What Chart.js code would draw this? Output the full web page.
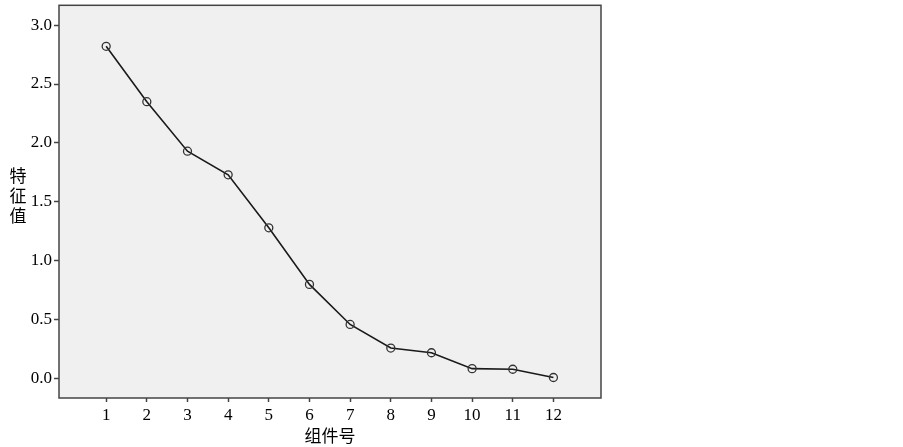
<!DOCTYPE html>
<html>
<head>
<meta charset="utf-8">
<script src="https://cdn.jsdelivr.net/npm/chart.js@4/dist/chart.umd.min.js"></script>
<style>
  html, body { margin: 0; padding: 0; background: #fff; }
  #wrap { width: 903px; height: 447px; }
</style>
</head>
<body>
<div id="wrap"><canvas id="scree" width="903" height="447"></canvas></div>
<script>
// component numbers and eigenvalues
const components = [1, 2, 3, 4, 5, 6, 7, 8, 9, 10, 11, 12];
const eigenvalues = [2.82, 2.35, 1.93, 1.73, 1.28, 0.80, 0.46, 0.26, 0.22, 0.085, 0.08, 0.01];
const yTicks = [0, 0.5, 1.0, 1.5, 2.0, 2.5, 3.0];
const xTitle = "组件号";
const yTitle = ["特", "征", "值"];

const frameColor = "#444";

// grey plot area plus box around it, stacked vertical y title
const framePlugin = {
    id: "frame",
    beforeDatasetsDraw(chart) {
        const { ctx, chartArea: a } = chart;
        ctx.save();
        ctx.fillStyle = "#f0f0f0";
        ctx.fillRect(a.left, a.top, a.right - a.left, a.bottom - a.top);
        ctx.restore();
    },
    afterDraw(chart) {
        const { ctx, chartArea: a } = chart;
        ctx.save();
        ctx.strokeStyle = frameColor;
        ctx.lineWidth = 1.5;
        ctx.strokeRect(a.left, a.top, a.right - a.left, a.bottom - a.top);
        ctx.fillStyle = "#000";
        ctx.font = "17px 'Noto Sans CJK SC'";
        ctx.textAlign = "center";
        ctx.textBaseline = "middle";
        yTitle.forEach((ch, i) => ctx.fillText(ch, 18, 176 + i * 20));
        ctx.restore();
    },
};

const tickFont = { family: "'Liberation Serif', serif", size: 17 };

new Chart(document.getElementById("scree"), {
    type: "line",
    data: {
        datasets: [{
            data: components.map((c, i) => ({ x: c, y: eigenvalues[i] })),
            borderColor: "#1a1a1a",
            borderWidth: 1.6,
            pointRadius: 4,
            pointBorderWidth: 1.3,
            pointBorderColor: "#333",
            pointBackgroundColor: "rgba(0,0,0,0)",
            tension: 0,
        }],
    },
    options: {
        responsive: false,
        animation: false,
        layout: { padding: { left: 0, top: 5, right: 302, bottom: 0 } },
        plugins: { legend: { display: false }, tooltip: { enabled: false } },
        scales: {
            x: {
                type: "linear",
                min: -0.16,
                max: 13.17,
                afterBuildTicks: (scale) => { scale.ticks = components.map((v) => ({ value: v })); },
                afterFit: (scale) => {
                    scale.height = 49;
                    scale.paddingLeft = 0;
                    scale.paddingRight = 0;
                },
                grid: { drawOnChartArea: false, tickLength: 4, color: frameColor, tickWidth: 1.5 },
                border: { display: false },
                ticks: { font: tickFont, color: "#000", padding: 3, autoSkip: false, maxRotation: 0 },
                title: {
                    display: true,
                    text: xTitle,
                    font: { family: "'Noto Sans CJK SC'", size: 17 },
                    color: "#000",
                    padding: { top: 0, bottom: 1 },
                },
            },
            y: {
                type: "linear",
                min: -0.164,
                max: 3.168,
                afterBuildTicks: (scale) => { scale.ticks = yTicks.map((v) => ({ value: v })); },
                afterFit: (scale) => {
                    scale.width = 59;
                    scale.paddingTop = 0;
                    scale.paddingBottom = 0;
                },
                grid: { drawOnChartArea: false, tickLength: 5, color: frameColor, tickWidth: 1.5 },
                border: { display: false },
                ticks: {
                    font: tickFont,
                    color: "#000",
                    padding: 2,
                    callback: (v) => Number(v).toFixed(1),
                },
            },
        },
    },
    plugins: [framePlugin],
});
</script>
</body>
</html>
